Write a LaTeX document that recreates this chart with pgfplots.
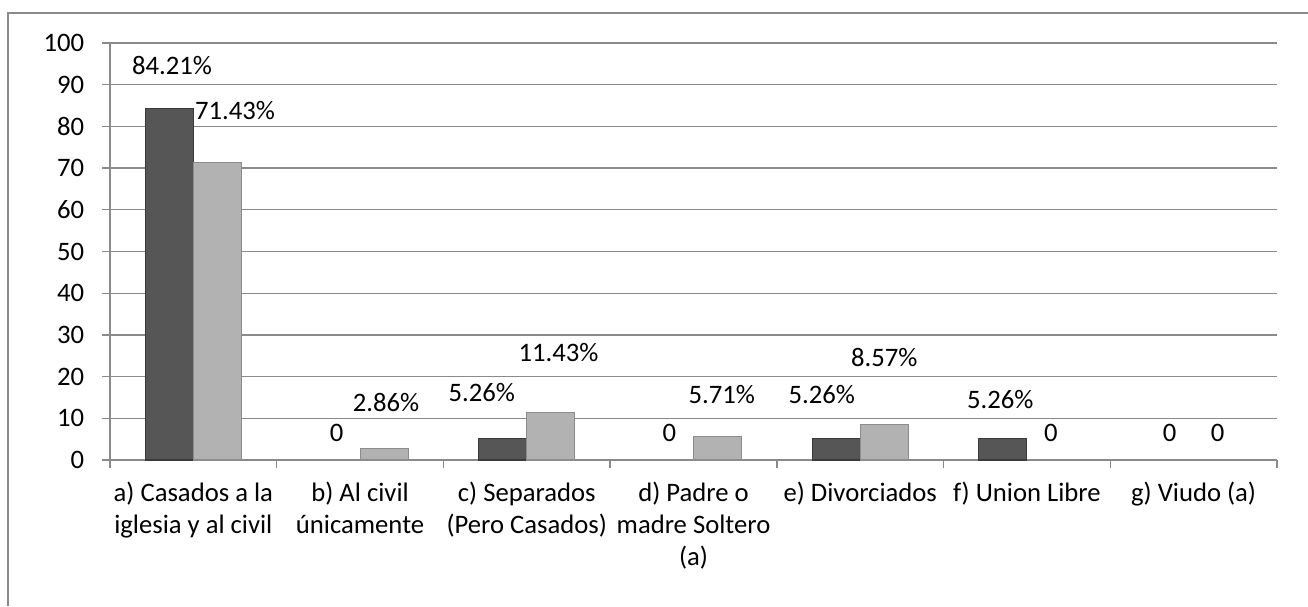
\documentclass[border=0pt]{standalone}
\usepackage{pgfplots}
\pgfplotsset{compat=1.18}
\usepackage{fontspec}
\setmainfont{Carlito}

\definecolor{gridgray}{RGB}{138,138,138}
\definecolor{darkbar}{RGB}{86,86,86}
\definecolor{darkedge}{RGB}{58,58,58}
\definecolor{lightbar}{RGB}{178,178,178}
\definecolor{lightedge}{RGB}{140,140,140}

\begin{document}
\fontsize{20}{24}\selectfont
\begin{tikzpicture}
\useasboundingbox (-82.5pt,-109.5pt) rectangle (898.5pt,345pt);
\draw[gridgray, line width=1.1pt] (-76.5pt,-109.5pt) -- (-76.5pt,335.25pt) -- (898.5pt,335.25pt);
\begin{axis}[
  at={(0,0)}, anchor=south west,
  width=875.25pt, height=312.75pt, scale only axis,
  xmin=-0.5, xmax=6.5, ymin=0, ymax=100,
  ytick={0,10,...,100},
  xtick={-0.5,0.5,...,6.5}, xticklabels={{},{},{},{},{},{},{},{}},
  extra x ticks={0,1,2,3,4,5,6},
  extra x tick labels={{a) Casados a la\\iglesia y al civil},{b) Al civil\\únicamente},{c) Separados\\(Pero Casados)},{d) Padre o\\madre Soltero\\(a)},{e) Divorciados},{f) Union Libre},{g) Viudo (a)}},
  extra x tick style={major tick length=0pt, tick label style={align=center, anchor=north, yshift=-10pt}},
  ymajorgrids, grid style={gridgray, line width=1pt},
  axis x line*=bottom, axis y line*=left,
  axis line style={gridgray, line width=1pt, -},
  tick style={gridgray, line width=1pt},
  tick align=outside, major tick length=6pt,
  tick label style={font=\fontsize{20}{24}\selectfont, text=black},
  yticklabel style={xshift=-6.5pt},
  /pgf/number format/assume math mode=true,
  clip=false,
]
\addplot[ybar, bar width=0.288, bar shift=-0.144, fill=darkbar, draw=darkedge, line width=0.8pt]
  coordinates {(0,84.21) (2,5.26) (4,5.26) (5,5.26)};
\addplot[ybar, bar width=0.288, bar shift=0.144, fill=lightbar, draw=lightedge, line width=0.8pt]
  coordinates {(0,71.43) (1,2.86) (2,11.43) (3,5.71) (4,8.57)};
\addplot[draw=none, mark=none, nodes near coords, point meta=explicit symbolic,
  nodes near coords style={anchor=center, font=\fontsize{20}{24}\selectfont, text=black}]
  coordinates {
  (-0.128,94.7) [84.21\%]
  (0.25,83.9) [71.43\%]
  (0.86,6.5) [0]
  (1.156,13.7) [2.86\%]
  (1.73,16.1) [5.26\%]
  (2.19,25.7) [11.43\%]
  (2.856,6.5) [0]
  (3.17,15.6) [5.71\%]
  (3.77,15.6) [5.26\%]
  (4.144,24.5) [8.57\%]
  (4.84,14.4) [5.26\%]
  (5.144,6.5) [0]
  (5.856,6.5) [0]
  (6.144,6.5) [0]
  };
\end{axis}
\end{tikzpicture}
\end{document}
